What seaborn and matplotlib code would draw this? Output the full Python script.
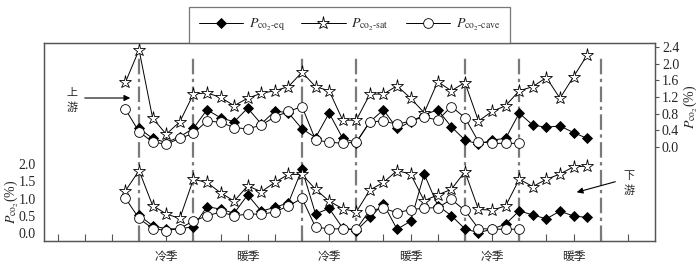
import numpy as np
import pandas as pd
import matplotlib
matplotlib.use('Agg')
import matplotlib.pyplot as plt
import seaborn as sns

# sample index along the x axis (no tick labels in the original)
sat_idx = list(range(6, 41))
eq_idx = list(range(7, 41))
cave_idx = list(range(6, 36))

# upstream (right axis)
up_sat = [1.56, 2.34, 0.69, 0.30, 0.60, 1.27, 1.30, 1.19, 0.99, 1.17,
          1.29, 1.35, 1.45, 1.80, 1.45, 1.35, 0.64, 0.64, 1.27, 1.27,
          1.47, 1.17, 0.82, 1.57, 1.35, 1.55, 0.62, 0.85, 0.99, 1.35,
          1.45, 1.67, 1.17, 1.69, 2.21]
up_eq = [0.44, 0.20, 0.10, 0.24, 0.44, 0.89, 0.70, 0.60, 0.93, 0.55,
         0.86, 0.82, 0.43, 0.22, 0.81, 0.20, 0.10, 0.60, 0.89, 0.44,
         0.60, 0.77, 0.89, 0.48, 0.16, 0.06, 0.16, 0.20, 0.81, 0.52,
         0.47, 0.50, 0.34, 0.20]
up_cave = [0.90, 0.36, 0.11, 0.06, 0.20, 0.32, 0.62, 0.59, 0.46, 0.43,
           0.52, 0.72, 0.85, 0.97, 0.16, 0.11, 0.08, 0.11, 0.60, 0.62,
           0.54, 0.62, 0.72, 0.64, 0.97, 0.70, 0.12, 0.08, 0.08, 0.08]

# downstream (left axis)
dn_sat = [1.23, 1.81, 0.80, 0.56, 0.43, 1.56, 1.47, 1.17, 0.93, 1.37,
          1.20, 1.47, 1.70, 1.70, 1.27, 0.93, 0.71, 0.62, 1.25, 1.47,
          1.81, 1.71, 0.94, 1.11, 1.27, 1.78, 0.69, 0.67, 0.79, 1.56,
          1.35, 1.56, 1.71, 1.92, 1.94]
dn_eq = [0.52, 0.22, 0.13, 0.13, 0.19, 0.77, 0.70, 0.58, 1.11, 0.64,
         0.75, 0.88, 1.85, 0.56, 0.72, 0.15, 0.08, 0.46, 0.85, 0.12,
         0.35, 1.71, 0.80, 0.51, 0.13, 0.02, 0.12, 0.27, 0.65, 0.53,
         0.42, 0.64, 0.50, 0.46]
dn_cave = [1.01, 0.43, 0.14, 0.08, 0.14, 0.36, 0.50, 0.62, 0.50, 0.56,
           0.55, 0.62, 0.79, 1.01, 0.18, 0.13, 0.13, 0.12, 0.67, 0.72,
           0.60, 0.68, 0.73, 0.74, 0.98, 0.66, 0.14, 0.12, 0.12, 0.12]

season_breaks = [7, 11, 19, 23, 31, 35, 41]
season_names = ['冷季', '暖季', '冷季', '暖季', '冷季', '暖季']
season_pos = [9, 15, 21, 27, 33, 39]

left_ticks = [0.0, 0.5, 1.0, 1.5, 2.0]
right_ticks = [0.0, 0.4, 0.8, 1.2, 1.6, 2.0, 2.4]

legend_labels = {
    'eq': r'$P_{\mathrm{co}_2\text{-}\mathrm{eq}}$',
    'sat': r'$P_{\mathrm{co}_2\text{-}\mathrm{sat}}$',
    'cave': r'$P_{\mathrm{co}_2\text{-}\mathrm{cave}}$',
}

def long_table(sat, eq, cave):
    parts = [
        pd.DataFrame({'idx': sat_idx, 'val': sat, 'serie': 'sat'}),
        pd.DataFrame({'idx': eq_idx, 'val': eq, 'serie': 'eq'}),
        pd.DataFrame({'idx': cave_idx, 'val': cave, 'serie': 'cave'}),
    ]
    return pd.concat(parts, ignore_index=True)

df_up = long_table(up_sat, up_eq, up_cave)
df_dn = long_table(dn_sat, dn_eq, dn_cave)

sns.set_style('ticks')
plt.rcParams['font.family'] = ['Liberation Serif', 'Noto Sans CJK SC']
plt.rcParams['mathtext.fontset'] = 'stix'

estilos = {
    'eq': dict(marker='D', markersize=5.2, markerfacecolor='black',
               markeredgecolor='black', markeredgewidth=0.6),
    'sat': dict(marker='*', markersize=9.5, markerfacecolor='white',
                markeredgecolor='black', markeredgewidth=0.6),
    'cave': dict(marker='o', markersize=7, markerfacecolor='white',
                 markeredgecolor='black', markeredgewidth=0.6),
}

fig = plt.figure(figsize=(7, 2.63), dpi=100)
ax = fig.add_axes([0.0629, 0.0837, 0.8728, 0.7528])
ax2 = ax.twinx()

for b in season_breaks:
    ax.axvline(b, ymin=0, ymax=0.94, color='#7a7a7a', lw=1.6,
               linestyle=(0, (7, 2, 1.5, 2)), zorder=1)

for serie in ['eq', 'sat', 'cave']:
    sns.lineplot(data=df_dn[df_dn.serie == serie], x='idx', y='val', ax=ax,
                 color='black', linewidth=0.7, errorbar=None, legend=False,
                 **estilos[serie])
    sns.lineplot(data=df_up[df_up.serie == serie], x='idx', y='val', ax=ax2,
                 color='black', linewidth=0.7, errorbar=None, legend=False,
                 **estilos[serie])

ax.set_xlim(0, 45)
ax.set_ylim(-0.22, 5.49)
ax2.set_ylim(-2.28, 2.505)
ax.set_xticks(np.arange(1, 44, 2))
ax.set_xticklabels([])
ax.tick_params(axis='x', direction='in', length=5, width=0.8, color='#555')
ax.set_yticks(left_ticks)
ax.set_yticklabels([f'{t:.1f}' for t in left_ticks], fontsize=10)
ax.tick_params(axis='y', length=0, pad=6)
ax2.set_yticks(right_ticks)
ax2.set_yticklabels([f'{t:.1f}' for t in right_ticks], fontsize=10)
ax2.tick_params(axis='y', direction='out', length=3, width=0.8, color='#555', pad=2)
ax.set_xlabel('')
ax.set_ylabel('')
ax2.set_ylabel('')
for a in (ax, ax2):
    for sp in a.spines.values():
        sp.set_visible(True)
        sp.set_color('#555')
        sp.set_linewidth(0.9)

for nombre, pos in zip(season_names, season_pos):
    ax.text(pos, -0.08, nombre, transform=ax.get_xaxis_transform(),
            ha='center', va='center', fontsize=8.5,
            family=['Noto Sans CJK SC'])

fig.text(0.016, 0.232, r'$P_{\mathrm{co}_2}$(%)', rotation=90,
         ha='center', va='center', fontsize=10)
fig.text(0.986, 0.593, r'$P_{\mathrm{co}_2}$(%)', rotation=90,
         ha='center', va='center', fontsize=10)

# flechas aguas arriba / aguas abajo
cjk = ['Noto Sans CJK SC']
fig.text(0.103, 0.645, '上', ha='center', va='center', fontsize=8, family=cjk)
fig.text(0.103, 0.59, '游', ha='center', va='center', fontsize=8, family=cjk)
ax.annotate('', xy=(133 / 700, 165 / 263), xytext=(82 / 700, 165 / 263),
            xycoords='figure fraction', textcoords='figure fraction',
            arrowprops=dict(arrowstyle='-|>', color='black', lw=0.8,
                            mutation_scale=9))
fig.text(0.899, 0.33, '下', ha='center', va='center', fontsize=8, family=cjk)
fig.text(0.899, 0.275, '游', ha='center', va='center', fontsize=8, family=cjk)
ax.annotate('', xy=(574 / 700, 70 / 263), xytext=(618 / 700, 82 / 263),
            xycoords='figure fraction', textcoords='figure fraction',
            arrowprops=dict(arrowstyle='-|>', color='black', lw=0.8,
                            mutation_scale=9))

handles = ax2.get_lines()
labels = [legend_labels[s] for s in ['eq', 'sat', 'cave']]
leg = fig.legend(handles, labels, loc='upper center', bbox_to_anchor=(0.499, 1.0),
                 ncol=3, frameon=True, fancybox=False, edgecolor='#555',
                 handlelength=3.2, columnspacing=1.2, borderpad=0.7,
                 fontsize=10, handletextpad=0.4)
leg.get_frame().set_linewidth(0.9)

fig.savefig('out.png', dpi=100)
